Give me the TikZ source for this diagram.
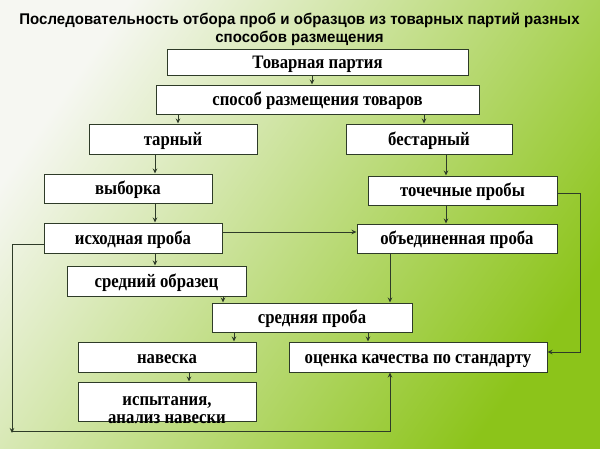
\documentclass[tikz,border=0pt]{standalone}
\usepackage{graphicx}
\usepackage{fontspec}
\setmainfont{Liberation Serif}
\newfontfamily\titlefont{Liberation Sans}
\usetikzlibrary{arrows.meta}
\definecolor{bgA}{HTML}{F6F7F2}
\definecolor{bgB}{HTML}{CBE2A8}
\definecolor{bgC}{HTML}{8CC41A}
\definecolor{ln}{HTML}{2E3B28}
\newcommand\bx[1]{\scalebox{0.88}[1]{#1}}
\newcommand\tx[1]{\scalebox{0.97}[1]{#1}}
\begin{document}
\begin{tikzpicture}[x=1pt,y=-1pt,
  box/.style={draw=ln, line width=1pt, fill=white, inner sep=0pt,
    font=\bfseries\fontsize{19}{18}\selectfont, align=center,
    text height=16.5pt, text depth=4pt},
  arr/.style={draw=ln, line width=1pt, -{Stealth[length=5pt,width=4.5pt]}},
  ln/.style={draw=ln, line width=1pt}]
\useasboundingbox (0,0) rectangle (600,448);
\shade[top color=bgA, middle color=bgB, bottom color=bgC, shading angle=55] (0,0) rectangle (600,448);

\node[font=\titlefont\bfseries\fontsize{15.5}{18}\selectfont, align=center] (title) at (299.5,29)
  {\tx{Последовательность отбора проб и образцов из товарных партий разных}\\\tx{способов размещения}};

\node[box, minimum width=301, minimum height=26] (tp)   at (317.5,62)    {\bx{Товарная партия}};
\node[box, minimum width=323, minimum height=29] (sp)   at (317.5,99.5)  {\bx{способ размещения товаров}};
\node[box, minimum width=168, minimum height=30] (tar)  at (173,139)     {\bx{тарный}};
\node[box, minimum width=166, minimum height=30] (bes)  at (429,139)     {\bx{бестарный}};
\node[box, minimum width=168, minimum height=29] (vyb)  at (128,188.5)   {\bx{выборка}};
\node[box, minimum width=189, minimum height=29] (toch) at (462.5,190.5) {\bx{точечные пробы}};
\node[box, minimum width=178, minimum height=30] (ish)  at (133,238)     {\bx{исходная проба}};
\node[box, minimum width=200, minimum height=29] (obj)  at (457,238.5)   {\bx{объединенная проба}};
\node[box, minimum width=179, minimum height=30] (sro)  at (156.5,281)   {\bx{средний образец}};
\node[box, minimum width=200, minimum height=29] (srp)  at (312,317.5)   {\bx{средняя проба}};
\node[box, minimum width=178, minimum height=30] (nav)  at (167,357)     {\bx{навеска}};
\node[box, minimum width=258, minimum height=30] (ots)  at (418,357)     {\bx{оценка качества по стандарту}};
\node[box, minimum width=178, minimum height=39, text height=39pt, text depth=0pt] (isp) at (167,401.5)
  {\raisebox{-2pt}{\bx{испытания,}}\\\raisebox{-2pt}{\bx{анализ навески}}};

\coordinate (corner) at (12,431);

\draw[arr] (tp.south -| 312,0) -- (sp.north -| 312,0);
\draw[arr] (sp.south -| 178,0) -- (tar.north -| 178,0);
\draw[arr] (sp.south -| 424,0) -- (bes.north -| 424,0);
\draw[arr] (tar.south -| 155,0) -- (vyb.north -| 155,0);
\draw[arr] (bes.south -| 446,0) -- (toch.north -| 446,0);
\draw[arr] (vyb.south -| 155,0) -- (ish.north -| 155,0);
\draw[arr] (toch.south -| 446,0) -- (obj.north -| 446,0);
\draw[arr] (ish.east |- 0,232) -- (obj.west |- 0,232);
\draw[arr] (ish.south -| 155,0) -- (sro.north -| 155,0);
\draw[arr] (sro.south -| 223,0) -- (srp.north -| 223,0);
\draw[arr] (obj.south -| 390,0) -- (srp.north -| 390,0);
\draw[arr] (srp.south -| 234,0) -- (nav.north -| 234,0);
\draw[arr] (srp.south -| 368,0) -- (ots.north -| 368,0);
\draw[arr] (nav.south -| 189,0) -- (isp.north -| 189,0);
\draw[arr] (toch.east |- 0,193) -- ++(23,0) |- (ots.east |- 0,352);
\draw[arr] (ish.west |- 0,244) -| ([yshift=-2pt]corner);
\draw[arr] (corner) -| (ots.south -| 390,0);
\end{tikzpicture}
\end{document}
